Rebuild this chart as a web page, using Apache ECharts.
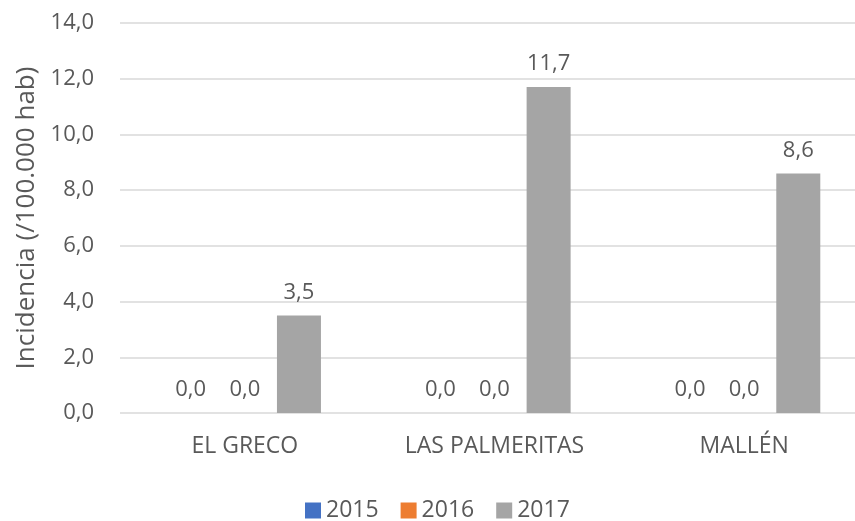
<!DOCTYPE html>
<html>
<head>
<meta charset="utf-8">
<script src="https://cdn.jsdelivr.net/npm/echarts@6/dist/echarts.min.js"></script>
<style>
  html, body { margin: 0; padding: 0; background: #fff; }
  #chart { width: 855px; height: 521px; }
</style>
</head>
<body>
<div id="chart"></div>
<script>
// Incidence per 100,000 inhabitants by health zone and year
const categories = ['EL GRECO', 'LAS PALMERITAS', 'MALLÉN'];
const years = ['2015', '2016', '2017'];
const values2015 = [0.0, 0.0, 0.0];
const values2016 = [0.0, 0.0, 0.0];
const values2017 = [3.5, 11.7, 8.6];
const yTicks = [0, 2, 4, 6, 8, 10, 12, 14];

const colors = ['#4472C4', '#ED7D31', '#A5A5A5'];
const textColor = '#595959';
const fontFamily = '"Open Sans", "Noto Sans", "Liberation Sans", sans-serif';
const fmt = v => Number(v).toFixed(1).replace('.', ',');

const seriesData = [values2015, values2016, values2017];

const chart = echarts.init(document.getElementById('chart'));
chart.setOption({
  animation: false,
  color: colors,
  textStyle: { fontFamily: fontFamily },
  // plot area runs slightly past the right edge of the canvas
  grid: { left: 120, width: 749, top: 23, bottom: 108, containLabel: false, outerBoundsMode: 'none' },
  legend: {
    data: years,
    top: 494,
    left: 300,
    itemWidth: 16,
    itemHeight: 16,
    itemGap: 22,
    icon: 'rect',
    textStyle: { color: textColor, fontSize: 23, fontFamily: fontFamily }
  },
  xAxis: {
    type: 'category',
    data: categories,
    axisLine: { show: false },
    axisTick: { show: false },
    axisLabel: { color: textColor, fontSize: 23, margin: 22, fontFamily: fontFamily }
  },
  yAxis: {
    type: 'value',
    min: yTicks[0],
    max: yTicks[yTicks.length - 1],
    interval: 2,
    name: 'Incidencia (/100.000 hab)',
    nameLocation: 'middle',
    nameGap: 80,
    nameTextStyle: { color: textColor, fontSize: 26, fontFamily: fontFamily },
    axisLine: { show: false },
    axisTick: { show: false },
    splitLine: { lineStyle: { color: '#D9D9D9', width: 1.5 } },
    axisLabel: { color: textColor, fontSize: 22, margin: 26, formatter: fmt, fontFamily: fontFamily }
  },
  series: years.map((y, i) => ({
    name: y,
    type: 'bar',
    data: seriesData[i],
    barWidth: 44,
    barGap: '23%',
    itemStyle: { color: colors[i] },
    label: {
      show: true,
      position: 'top',
      distance: 12,
      color: textColor,
      fontSize: 22,
      fontFamily: fontFamily,
      formatter: p => fmt(p.value)
    }
  }))
});
</script>
</body>
</html>
